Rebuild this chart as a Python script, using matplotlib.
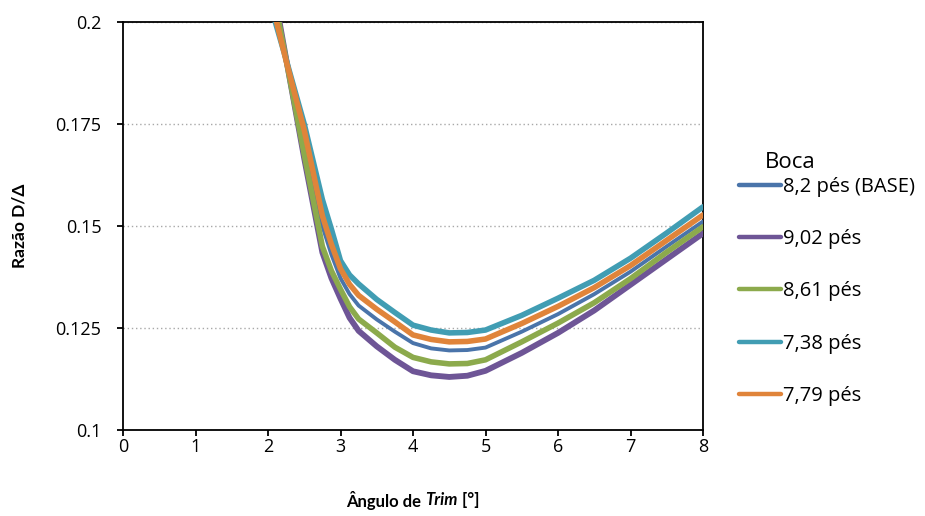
import matplotlib
matplotlib.use("Agg")
import matplotlib.pyplot as plt

plt.rcParams['font.family'] = ['Open Sans', 'DejaVu Sans']

# ---- data ----
x = [2.0, 2.25, 2.5, 2.75, 2.875, 3.0, 3.125, 3.25, 3.5, 3.75, 4.0, 4.25, 4.5, 4.75, 5.0, 5.5, 6.0, 6.5, 7.0, 7.5, 8.0]

base_820 = [0.2105, 0.1902, 0.1720, 0.1500, 0.1430, 0.1372, 0.1333, 0.1305, 0.1271, 0.1241, 0.1213, 0.1200,
            0.1195, 0.1196, 0.1202, 0.1241, 0.1284, 0.1333, 0.1388, 0.1450, 0.1511]
boca_902 = [0.2157, 0.1910, 0.1665, 0.1435, 0.1372, 0.1322, 0.1275, 0.1243, 0.1205, 0.1172, 0.1144, 0.1134,
            0.1130, 0.1133, 0.1145, 0.1189, 0.1238, 0.1293, 0.1356, 0.1419, 0.1482]
boca_861 = [0.2135, 0.1908, 0.1675, 0.1450, 0.1390, 0.1345, 0.1302, 0.1272, 0.1238, 0.1203, 0.1178, 0.1167,
            0.1162, 0.1163, 0.1172, 0.1216, 0.1262, 0.1312, 0.1371, 0.1436, 0.1498]
boca_738 = [0.2062, 0.1908, 0.1750, 0.1565, 0.1492, 0.1415, 0.1380, 0.1358, 0.1320, 0.1288, 0.1257, 0.1245,
            0.1238, 0.1239, 0.1245, 0.1281, 0.1323, 0.1367, 0.1421, 0.1483, 0.1547]
boca_779 = [0.2085, 0.1905, 0.1735, 0.1525, 0.1455, 0.1395, 0.1357, 0.1330, 0.1296, 0.1265, 0.1233, 0.1222,
            0.1216, 0.1217, 0.1223, 0.1261, 0.1303, 0.1349, 0.1403, 0.1465, 0.1527]

series_labels = ['8,2 pés (BASE)', '9,02 pés', '8,61 pés', '7,38 pés', '7,79 pés']
series_values = [base_820, boca_902, boca_861, boca_738, boca_779]
series_colors = ['#4A74AA', '#6E5596', '#8CAA4C', '#419DB3', '#E0843A']
series_widths = [2.8, 4.2, 4.0, 4.0, 4.0]

xticks = [0, 1, 2, 3, 4, 5, 6, 7, 8]
yticks = [0.1, 0.125, 0.15, 0.175, 0.2]
ytick_labels = ['0.1', '0.125', '0.15', '0.175', '0.2']

# ---- figure ----
fig = plt.figure(figsize=(9.25, 5.16), dpi=100)
ax = fig.add_axes([123 / 925, 1 - 430 / 516, (703 - 123) / 925, (430 - 22) / 516])

handles = []
for vals, lab, col, lw in zip(series_values, series_labels, series_colors, series_widths):
    h, = ax.plot(x, vals, color=col, lw=lw, label=lab, solid_capstyle='round',
                 solid_joinstyle='round', zorder=3)
    handles.append(h)

ax.set_xlim(0, 8)
ax.set_ylim(0.1, 0.2)
ax.set_xticks(xticks)
ax.set_xticklabels([str(t) for t in xticks])
ax.set_yticks(yticks)
ax.set_yticklabels(ytick_labels)
ax.tick_params(axis='both', direction='out', length=4.5, width=1.3, labelsize=13, color='black')
ax.tick_params(axis='x', pad=1)
ax.tick_params(axis='y', pad=11)
for s in ax.spines.values():
    s.set_linewidth(1.3)
    s.set_color('black')

ax.yaxis.grid(True, linestyle=(0, (1, 2)), color='#A8A8A8', linewidth=1.0)
ax.set_axisbelow(True)

ax.set_ylabel('Razão D/Δ', fontsize=12.5, fontweight='bold', labelpad=20, family=['Lato', 'DejaVu Sans'])

leg = ax.legend(handles=handles, loc='upper left', bbox_to_anchor=(739 / 925, 1 - 177 / 516),
                bbox_transform=fig.transFigure, frameon=False, fontsize=14.5,
                handlelength=2.1, handletextpad=0.1, labelspacing=1.6, borderpad=0, borderaxespad=0)
for ln in leg.get_lines():
    ln.set_linewidth(3.2)
fig.text(790 / 925, 1 - 163 / 516, 'Boca', fontsize=16, ha='center', va='center')

# x label with italic "Trim"
fig.canvas.draw()
renderer = fig.canvas.get_renderer()
parts = [('Ângulo de ', 'normal'), ('Trim', 'italic'), (' [°]', 'normal')]
texts = []
widths = []
for s, st in parts:
    t = fig.text(0, 1 - 500 / 516, s, fontsize=12, fontweight='bold', style=st, ha='left', va='center',
                 family=['Lato', 'DejaVu Sans'])
    texts.append(t)
    widths.append(t.get_window_extent(renderer).width)
total = sum(widths)
start = 413 - total / 2
for t, w in zip(texts, widths):
    t.set_x(start / 925)
    start += w

fig.savefig('out.png', dpi=100)
